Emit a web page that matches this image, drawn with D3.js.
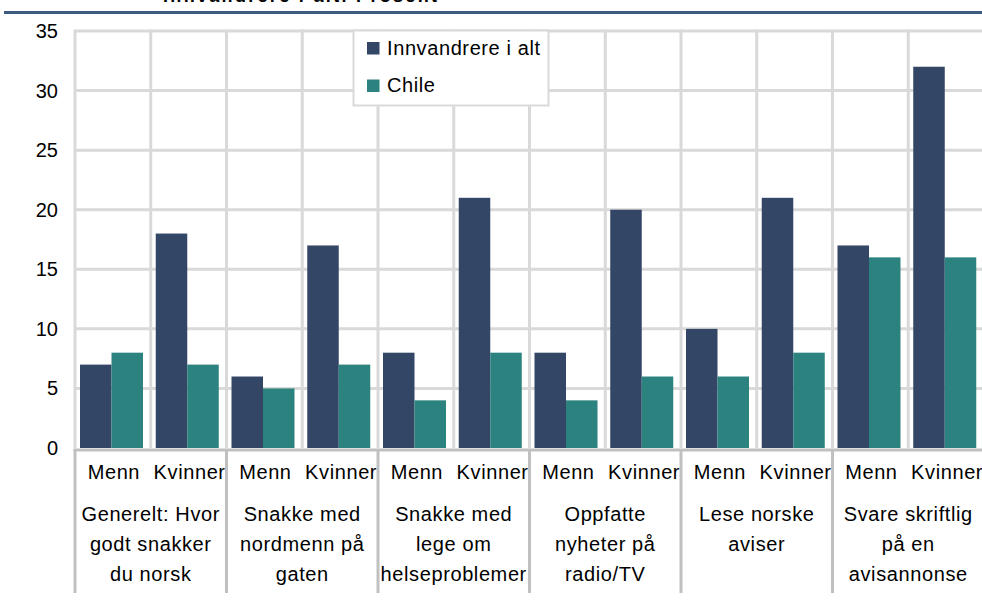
<!DOCTYPE html>
<html>
<head>
<meta charset="utf-8">
<script src="https://cdn.jsdelivr.net/npm/d3@7"></script>
<style>
  body { margin: 0; background: #fff; }
  svg { display: block; font-family: "Liberation Sans", Arial, sans-serif; }
</style>
</head>
<body>
<svg id="chart" width="982" height="603"></svg>
<script>
// Data
const groups = [
  ["Generelt: Hvor", "godt snakker", "du norsk"],
  ["Snakke med", "nordmenn på", "gaten"],
  ["Snakke med", "lege om", "helseproblemer"],
  ["Oppfatte", "nyheter på", "radio/TV"],
  ["Lese norske", "aviser"],
  ["Svare skriftlig", "på en", "avisannonse"]
];
const genders = ["Menn", "Kvinner"];
const series = ["Innvandrere i alt", "Chile"];
// values per group: [Menn, Kvinner]
const innvandrere = [[7, 18], [6, 17], [8, 21], [8, 20], [10, 21], [17, 32]];
const chile = [[8, 7], [5, 7], [4, 8], [4, 6], [6, 8], [16, 16]];
const yTicks = [0, 5, 10, 15, 20, 25, 30, 35];
const title = "Innvandrere i alt. Prosent";

const colors = ["#334666", "#2c827e"];
const gridColor = "#d9d9d9";
const axisColor = "#c0c0c0";
const labelSpacing = "0.6px";

const svg = d3.select("#chart");
const plotLeft = 75, plotRight = 984, plotTop = 31, plotBottom = 448;

// Title (cut off at the top, as in the source) and rule
svg.append("text")
  .attr("x", 163).attr("y", 2)
  .attr("textLength", 274)
  .style("font-size", "18px").style("font-weight", "bold")
  .attr("fill", "#000")
  .text(title);
svg.append("line")
  .attr("x1", 4).attr("x2", 982).attr("y1", 12.5).attr("y2", 12.5)
  .attr("stroke", "#3d5a80").attr("stroke-width", 3);

// Scales
const gIdx = groups.map((d, i) => i);
const x0 = d3.scaleBand().domain(gIdx).range([plotLeft, plotRight]);
const x1 = d3.scaleBand().domain(genders).range([0, x0.bandwidth()]);
const x2 = d3.scaleBand().domain(series).range([5, 68]);
const y = d3.scaleLinear().domain([0, 35]).range([plotBottom, plotTop]);

// Horizontal gridlines
svg.append("g").selectAll("line")
  .data(yTicks.filter(d => d > 0))
  .join("line")
  .attr("x1", plotLeft).attr("x2", 982)
  .attr("y1", d => y(d)).attr("y2", d => y(d))
  .attr("stroke", gridColor).attr("stroke-width", 3);

// Vertical gridlines (between every subcategory)
const subStarts = [];
gIdx.forEach(g => genders.forEach(s => subStarts.push(x0(g) + x1(s))));
svg.append("g").selectAll("line")
  .data(subStarts)
  .join("line")
  .attr("x1", d => d).attr("x2", d => d)
  .attr("y1", plotTop - 1.5).attr("y2", plotBottom)
  .attr("stroke", gridColor).attr("stroke-width", 3);

// Y tick labels
svg.append("g").selectAll("text")
  .data(yTicks)
  .join("text")
  .attr("x", 58).attr("y", d => y(d) + 7)
  .attr("text-anchor", "end")
  .style("font-size", "20px")
  .attr("fill", "#000")
  .text(d => d);

// Bars
const barData = [];
gIdx.forEach(g => genders.forEach((s, si) => {
  barData.push({ g, s, k: series[0], v: innvandrere[g][si], c: colors[0] });
  barData.push({ g, s, k: series[1], v: chile[g][si], c: colors[1] });
}));
svg.append("g").selectAll("rect")
  .data(barData)
  .join("rect")
  .attr("x", d => x0(d.g) + x1(d.s) + x2(d.k))
  .attr("width", x2.bandwidth())
  .attr("y", d => y(d.v))
  .attr("height", d => y(0) - y(d.v))
  .attr("fill", d => d.c);

// X axis line
svg.append("line")
  .attr("x1", plotLeft - 1.5).attr("x2", 982)
  .attr("y1", plotBottom + 2).attr("y2", plotBottom + 2)
  .attr("stroke", axisColor).attr("stroke-width", 3);

// Group separators
svg.append("g").selectAll("line")
  .data(gIdx)
  .join("line")
  .attr("x1", d => x0(d)).attr("x2", d => x0(d))
  .attr("y1", plotBottom + 1).attr("y2", 593)
  .attr("stroke", axisColor).attr("stroke-width", 3);

// Gender labels
svg.append("g").selectAll("text")
  .data(barData.filter(d => d.k === series[0]))
  .join("text")
  .attr("x", d => x0(d.g) + x1(d.s) + x1.bandwidth() / 2 + 1)
  .attr("y", 479)
  .attr("text-anchor", "middle")
  .style("font-size", "20px")
  .style("letter-spacing", labelSpacing)
  .attr("fill", "#000")
  .text(d => d.s);

// Group labels
const gl = svg.append("g").selectAll("text")
  .data(gIdx)
  .join("text")
  .attr("text-anchor", "middle")
  .style("font-size", "20px")
  .style("letter-spacing", labelSpacing)
  .attr("fill", "#000");
gl.selectAll("tspan")
  .data(d => groups[d].map(t => ({ g: d, t })))
  .join("tspan")
  .attr("x", d => x0(d.g) + x0.bandwidth() / 2)
  .attr("y", (d, i) => 521 + i * 29.8)
  .text(d => d.t);

// Legend
const lg = svg.append("g");
lg.append("rect")
  .attr("x", 353.5).attr("y", 30.5).attr("width", 195).attr("height", 75)
  .attr("fill", "#fff").attr("stroke", gridColor).attr("stroke-width", 2);
series.forEach((s, i) => {
  lg.append("rect")
    .attr("x", 367).attr("y", 42 + i * 37.5).attr("width", 12.5).attr("height", 12.5)
    .attr("fill", colors[i]);
  lg.append("text")
    .attr("x", 387).attr("y", 54.5 + i * 37)
    .style("font-size", "20px")
    .style("letter-spacing", labelSpacing)
    .attr("fill", "#000")
    .text(s);
});
</script>
</body>
</html>
